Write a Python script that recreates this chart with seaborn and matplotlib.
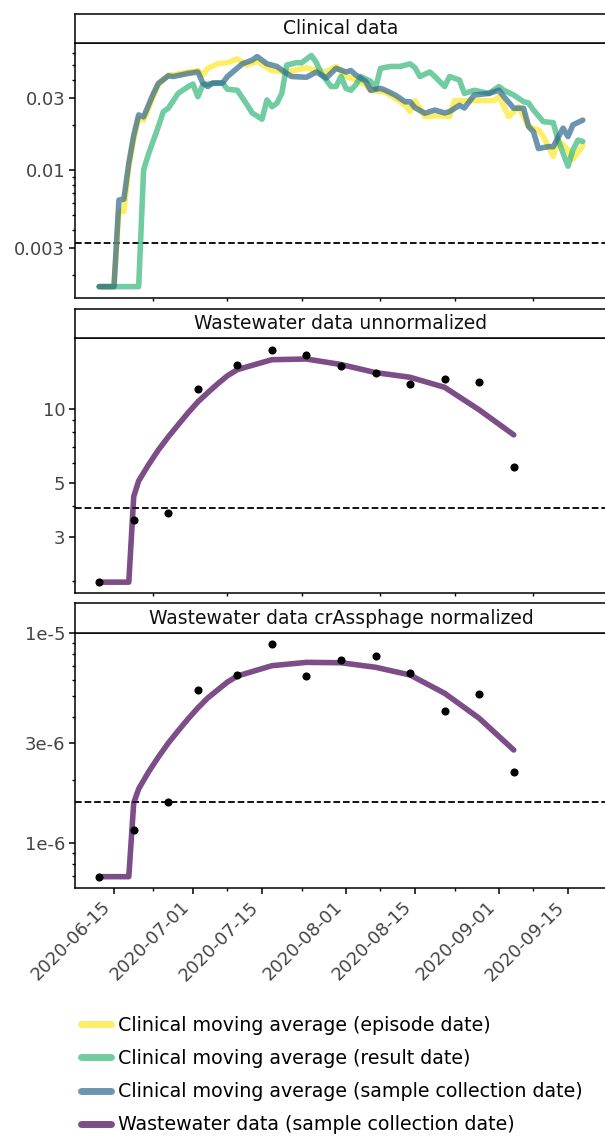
import numpy as np
import pandas as pd
import matplotlib
matplotlib.use("Agg")
import matplotlib.pyplot as plt
import matplotlib.dates as mdates
import matplotlib.ticker as mticker
from matplotlib.lines import Line2D
import seaborn as sns

# ---------------- data ----------------
panel_titles = ["Clinical data", "Wastewater data unnormalized",
                "Wastewater data crAssphage normalized"]

legend_labels = ["Clinical moving average (episode date)",
                 "Clinical moving average (result date)",
                 "Clinical moving average (sample collection date)",
                 "Wastewater data (sample collection date)"]

episode_dates = ["2020-06-12", "2020-06-15", "2020-06-16", "2020-06-17", "2020-06-18", "2020-06-19",
                 "2020-06-20", "2020-06-21", "2020-06-23", "2020-06-24", "2020-06-26", "2020-06-27",
                 "2020-06-30", "2020-07-02", "2020-07-03", "2020-07-04", "2020-07-06", "2020-07-08",
                 "2020-07-10", "2020-07-12", "2020-07-14", "2020-07-17", "2020-07-20", "2020-07-24",
                 "2020-07-26", "2020-07-28", "2020-07-30", "2020-08-01", "2020-08-03", "2020-08-05",
                 "2020-08-06", "2020-08-09", "2020-08-11", "2020-08-13", "2020-08-14", "2020-08-15",
                 "2020-08-17", "2020-08-20", "2020-08-22", "2020-08-23", "2020-08-26", "2020-08-31",
                 "2020-09-01", "2020-09-03", "2020-09-05", "2020-09-07", "2020-09-09", "2020-09-10",
                 "2020-09-12", "2020-09-13", "2020-09-15", "2020-09-16", "2020-09-18"]
episode_values = [0.00167, 0.00167, 0.0053, 0.0053, 0.0105, 0.016,
                  0.022, 0.0215, 0.031, 0.037, 0.043, 0.043,
                  0.045, 0.046, 0.043, 0.0476, 0.051, 0.052,
                  0.055, 0.050, 0.053, 0.046, 0.045, 0.048,
                  0.046, 0.045, 0.049, 0.042, 0.040, 0.037,
                  0.034, 0.033, 0.030, 0.027, 0.0245, 0.029,
                  0.0227, 0.023, 0.0227, 0.029, 0.029, 0.029,
                  0.031, 0.0227, 0.0264, 0.0195, 0.0185, 0.0167,
                  0.0123, 0.0158, 0.0136, 0.0118, 0.0145]

result_dates = ["2020-06-12", "2020-06-20", "2020-06-21", "2020-06-22", "2020-06-23", "2020-06-24",
                "2020-06-25", "2020-06-26", "2020-06-28", "2020-06-30", "2020-07-01", "2020-07-02",
                "2020-07-03", "2020-07-05", "2020-07-07", "2020-07-08", "2020-07-10", "2020-07-12",
                "2020-07-13", "2020-07-14", "2020-07-15", "2020-07-16", "2020-07-17", "2020-07-18",
                "2020-07-19", "2020-07-20", "2020-07-22", "2020-07-23", "2020-07-25", "2020-07-26",
                "2020-07-27", "2020-07-29", "2020-07-30", "2020-07-31", "2020-08-01", "2020-08-02",
                "2020-08-03", "2020-08-04", "2020-08-06", "2020-08-07", "2020-08-08", "2020-08-10",
                "2020-08-12", "2020-08-14", "2020-08-15", "2020-08-16", "2020-08-18", "2020-08-19",
                "2020-08-21", "2020-08-22", "2020-08-24", "2020-08-25", "2020-08-27", "2020-08-30",
                "2020-09-01", "2020-09-02", "2020-09-04", "2020-09-06", "2020-09-07", "2020-09-08",
                "2020-09-10", "2020-09-12", "2020-09-13", "2020-09-15", "2020-09-16", "2020-09-17",
                "2020-09-18"]
result_values = [0.00167, 0.00167, 0.0100, 0.0128, 0.0158, 0.0195,
                 0.0245, 0.0258, 0.0324, 0.0359, 0.0374, 0.0308,
                 0.037, 0.0378, 0.038, 0.0345, 0.034, 0.0271,
                 0.0240, 0.0229, 0.0218, 0.0293, 0.0264, 0.0278,
                 0.0324, 0.050, 0.052, 0.0518, 0.058, 0.052,
                 0.044, 0.036, 0.036, 0.042, 0.035, 0.034,
                 0.037, 0.042, 0.039, 0.035, 0.0476, 0.049,
                 0.049, 0.051, 0.048, 0.042, 0.045, 0.042,
                 0.036, 0.042, 0.0398, 0.0324, 0.034, 0.0324,
                 0.036, 0.034, 0.0316, 0.0285, 0.028, 0.0251,
                 0.021, 0.0207, 0.0158, 0.0106, 0.0136, 0.0158,
                 0.0155]

collection_dates = ["2020-06-12", "2020-06-15", "2020-06-16", "2020-06-17", "2020-06-18", "2020-06-19",
                    "2020-06-20", "2020-06-21", "2020-06-23", "2020-06-24", "2020-06-26", "2020-06-27",
                    "2020-06-30", "2020-07-02", "2020-07-03", "2020-07-04", "2020-07-05", "2020-07-07",
                    "2020-07-08", "2020-07-11", "2020-07-13", "2020-07-14", "2020-07-16", "2020-07-18",
                    "2020-07-20", "2020-07-21", "2020-07-24", "2020-07-26", "2020-07-28", "2020-07-30",
                    "2020-08-01", "2020-08-02", "2020-08-03", "2020-08-05", "2020-08-06", "2020-08-08",
                    "2020-08-09", "2020-08-11", "2020-08-13", "2020-08-14", "2020-08-15", "2020-08-17",
                    "2020-08-19", "2020-08-21", "2020-08-22", "2020-08-24", "2020-08-25", "2020-08-27",
                    "2020-08-30", "2020-09-01", "2020-09-02", "2020-09-04", "2020-09-06", "2020-09-07",
                    "2020-09-08", "2020-09-09", "2020-09-11", "2020-09-12", "2020-09-14", "2020-09-15",
                    "2020-09-16", "2020-09-18"]
collection_values = [0.00167, 0.00167, 0.0063, 0.0064, 0.0111, 0.017,
                     0.0233, 0.0226, 0.0324, 0.0378, 0.0424, 0.042,
                     0.044, 0.045, 0.038, 0.036, 0.038, 0.038,
                     0.042, 0.051, 0.054, 0.057, 0.051, 0.049,
                     0.044, 0.042, 0.0415, 0.045, 0.041, 0.0476,
                     0.045, 0.046, 0.043, 0.039, 0.034, 0.035,
                     0.034, 0.0316, 0.0285, 0.0285, 0.026, 0.0239,
                     0.0251, 0.024, 0.0245, 0.027, 0.0259, 0.0316,
                     0.0324, 0.034, 0.0308, 0.0258, 0.0258, 0.0195,
                     0.018, 0.0139, 0.0143, 0.0143, 0.019, 0.0167,
                     0.020, 0.0215]

sample_dates = ["2020-06-12", "2020-06-19", "2020-06-26", "2020-07-02", "2020-07-10", "2020-07-17",
                "2020-07-24", "2020-07-31", "2020-08-07", "2020-08-14", "2020-08-21", "2020-08-28",
                "2020-09-04"]
unnorm_points = [1.97, 3.53, 3.78, 12.0, 15.0, 17.3, 16.5, 14.9, 14.0, 12.6, 13.2, 12.8, 5.81]
norm_points = [6.93e-7, 1.157e-6, 1.57e-6, 5.35e-6, 6.31e-6, 8.86e-6, 6.28e-6, 7.44e-6,
               7.77e-6, 6.45e-6, 4.27e-6, 5.16e-6, 2.18e-6]

curve_dates = ["2020-06-12", "2020-06-18", "2020-06-19", "2020-06-20", "2020-06-22", "2020-06-24",
               "2020-06-26", "2020-06-28", "2020-06-30", "2020-07-02", "2020-07-04", "2020-07-06",
               "2020-07-08", "2020-07-10", "2020-07-17", "2020-07-24", "2020-07-31", "2020-08-07",
               "2020-08-14", "2020-08-21", "2020-08-28", "2020-09-04"]
unnorm_curve = [1.97, 1.97, 4.39, 5.08, 5.91, 6.79,
                7.67, 8.59, 9.6, 10.65, 11.6, 12.6,
                13.6, 14.4, 15.8, 15.9, 15.1, 14.0,
                13.4, 12.2, 9.88, 7.82]
norm_curve = [6.93e-7, 6.93e-7, 1.556e-6, 1.814e-6, 2.185e-6, 2.576e-6,
              3.0e-6, 3.43e-6, 3.91e-6, 4.41e-6, 4.92e-6, 5.37e-6,
              5.86e-6, 6.26e-6, 7.01e-6, 7.27e-6, 7.24e-6, 6.89e-6,
              6.33e-6, 5.18e-6, 3.94e-6, 2.78e-6]

thresholds = [0.00328, 3.95, 1.57e-6]
ylims = [(0.001396, 0.0699), (1.78, 19.3), (6.1e-7, 1e-5)]
yticks = [[0.003, 0.01, 0.03], [3, 5, 10], [1e-6, 3e-6, 1e-5]]
yticklabels = [["0.003", "0.01", "0.03"], ["3", "5", "10"], ["1e-6", "3e-6", "1e-5"]]

major_dates = ["2020-06-15", "2020-07-01", "2020-07-15", "2020-08-01", "2020-08-15",
               "2020-09-01", "2020-09-15"]
minor_dates = ["2020-06-23", "2020-07-08", "2020-07-23", "2020-08-08", "2020-08-23", "2020-09-08"]

colors = ["#fde725", "#35b779", "#31688e", "#440154"]

# ---------------- style ----------------
sns.set_style("ticks")
plt.rcParams['font.family'] = ['DejaVu Sans']
plt.rcParams['axes.linewidth'] = 1.1
plt.rcParams['text.color'] = 'black'

FS = 13.5
TICK_COLOR = "#444444"
LW = 4.0

fig = plt.figure(figsize=(6.05, 11.38), dpi=100)

L = 75 / 605
W = 532 / 605
H = 1138
ax_rects = [[L, 1 - 298.3 / H, W, 255 / H],
            [L, 1 - 593.0 / H, W, 254.7 / H],
            [L, 1 - 888.3 / H, W, 255 / H]]
strip_rects = [[L, 1 - 43.3 / H, W, 29.3 / H],
               [L, 1 - 338.3 / H, W, 29.3 / H],
               [L, 1 - 633.3 / H, W, 30.3 / H]]

axes = []
for i in range(3):
    if i == 0:
        ax = fig.add_axes(ax_rects[i])
    else:
        ax = fig.add_axes(ax_rects[i], sharex=axes[0])
    axes.append(ax)
    st = fig.add_axes(strip_rects[i])
    st.set_xticks([])
    st.set_yticks([])
    for s in st.spines.values():
        s.set_linewidth(1.1)
        s.set_color("black")
    st.text(0.5, 0.5, panel_titles[i], ha="center", va="center", fontsize=FS, color="#111111",
            transform=st.transAxes)

to_dt = pd.to_datetime

# clinical panel
ax = axes[0]
sns.lineplot(x=to_dt(episode_dates), y=episode_values, ax=ax, color=colors[0], alpha=0.7,
             linewidth=LW, label=legend_labels[0], estimator=None, legend=False)
sns.lineplot(x=to_dt(result_dates), y=result_values, ax=ax, color=colors[1], alpha=0.7,
             linewidth=LW, label=legend_labels[1], estimator=None, legend=False)
sns.lineplot(x=to_dt(collection_dates), y=collection_values, ax=ax, color=colors[2], alpha=0.7,
             linewidth=LW, label=legend_labels[2], estimator=None, legend=False)

# wastewater panels
for ax, curve, pts in [(axes[1], unnorm_curve, unnorm_points), (axes[2], norm_curve, norm_points)]:
    sns.lineplot(x=to_dt(curve_dates), y=curve, ax=ax, color=colors[3], alpha=0.7,
                 linewidth=LW, label=legend_labels[3], estimator=None, legend=False)
    sns.scatterplot(x=to_dt(sample_dates), y=pts, ax=ax, color="black", s=34,
                    linewidth=0, zorder=5, legend=False)

for i, ax in enumerate(axes):
    ax.set_yscale("log")
    ax.axhline(thresholds[i], color="black", linestyle="--", linewidth=1.3, zorder=1)
    ax.set_ylim(*ylims[i])
    ax.yaxis.set_major_locator(mticker.FixedLocator(yticks[i]))
    ax.yaxis.set_major_formatter(mticker.FixedFormatter(yticklabels[i]))
    ax.yaxis.set_minor_locator(mticker.LogLocator(base=10, subs=np.arange(2, 10), numticks=60))
    ax.yaxis.set_minor_formatter(mticker.NullFormatter())
    ax.set_xlabel("")
    ax.set_ylabel("")
    ax.tick_params(axis="both", which="major", length=4, width=1.1, color="black",
                   labelsize=FS - 0.5, labelcolor=TICK_COLOR, pad=3)
    ax.tick_params(axis="both", which="minor", length=2.3, width=1.0, color="black")
    for s in ax.spines.values():
        s.set_linewidth(1.1)
        s.set_color("black")

axes[0].xaxis.set_major_locator(mticker.FixedLocator(mdates.date2num(to_dt(major_dates))))
axes[0].xaxis.set_minor_locator(mticker.FixedLocator(mdates.date2num(to_dt(minor_dates))))
axes[0].xaxis.set_major_formatter(mdates.DateFormatter("%Y-%m-%d"))

for ax in axes[:2]:
    ax.tick_params(axis="x", which="major", length=0, labelbottom=False)

for lab in axes[2].get_xticklabels():
    lab.set_rotation(45)
    lab.set_ha("right")

# legend
handles = [Line2D([0], [0], color=c, alpha=0.7, linewidth=5) for c in colors]
fig.legend(handles, legend_labels, loc="upper left", bbox_to_anchor=(81 / 605, 1 - 1016 / H),
           frameon=False, fontsize=13.7, handlelength=1.6, handletextpad=0.37,
           labelspacing=0.74, borderpad=0, borderaxespad=0, labelcolor="black")

fig.savefig("out.png", dpi=100)
